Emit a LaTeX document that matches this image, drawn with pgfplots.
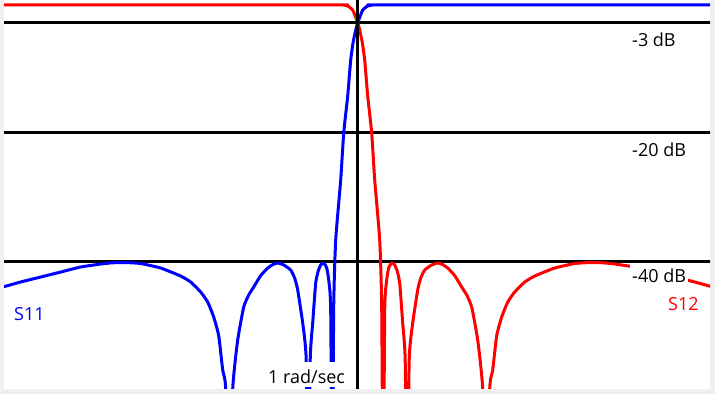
\documentclass[border=0pt]{standalone}
\usepackage{fontspec}
\setmainfont{Open Sans}
\usepackage{pgfplots}
\pgfplotsset{compat=1.18}
\definecolor{bg}{HTML}{F0F0F0}
\begin{document}
\begin{tikzpicture}[x=1pt,y=1pt]
\fill[bg] (0,0) rectangle (715,394);
\fill[white] (4,5) rectangle (710,394);
\begin{axis}[at={(4pt,5pt)}, anchor=south west, scale only axis,
  width=706pt, height=389pt,
  xmin=-353.7, xmax=352.3, ymin=-59.76, ymax=0.472,
  axis lines=none, ticks=none, clip=true]
\addplot[black, line width=3pt] coordinates {(-360,-3) (360,-3)};
\addplot[black, line width=3pt] coordinates {(-360,-20) (360,-20)};
\addplot[black, line width=3pt] coordinates {(-360,-40) (360,-40)};
% S11
\addplot[blue, line width=3pt, line join=round, smooth, tension=0.3] coordinates {
(-355,-43.97) (-337,-43.19) (-317,-42.42) (-297,-41.65) (-277,-40.87)
(-257,-40.41) (-245,-40.22) (-232,-40.18) (-217,-40.33) (-197,-41.03)
(-177,-42.27) (-167,-43.2) (-157,-44.74) (-150,-46.3) (-144,-48.61)
(-139,-51.5) (-135,-56.82) (-132,-59.76) (-129,-80) (-125,-59.76)
(-120,-52.18) (-114,-47.07) (-109,-45.2) (-104,-43.97) (-97,-42.2)
(-90,-41.03) (-85,-40.5) (-80,-40.25) (-74,-40.55) (-67,-41.34)
(-63,-42.6) (-60,-44.43) (-55,-49.54) (-51.5,-55.27) (-49.5,-80)
(-47.5,-55.27) (-45,-49.54) (-42,-43.35) (-39.5,-41.5) (-37,-40.56)
(-34,-40.25) (-31,-41.0) (-29,-42.88) (-27,-47.53) (-25.5,-80)
(-24,-47.07) (-22,-36.69) (-17,-27.4) (-14,-20.12) (-10,-14.39)
(-7,-8.82) (-4.5,-6.03) (-2,-4.17) (0,-3.0) (1,-2.62) (5,-1.08)
(10,-0.46) (15,-0.30) (25,-0.30) (355,-0.30)
};
% S12
\addplot[red, line width=3pt, line join=round, smooth, tension=0.3] coordinates {
(-355,-0.30) (-25,-0.30) (-15,-0.30) (-10,-0.46) (-5,-1.08) (-1,-2.62)
(0,-3.0) (2,-4.17) (4.5,-6.03) (7,-8.82) (10,-14.39) (14,-20.12)
(17,-27.4) (22,-36.69) (24,-47.07) (25.5,-80) (27,-47.53) (29,-42.88)
(31,-41.0) (34,-40.25) (37,-40.56) (39.5,-41.5) (42,-43.35) (45,-49.54)
(47.5,-55.27) (49.5,-80) (51.5,-55.27) (55,-49.54) (60,-44.43)
(63,-42.6) (67,-41.34) (74,-40.55) (80,-40.25) (85,-40.5) (90,-41.03)
(97,-42.2) (104,-43.97) (109,-45.2) (114,-47.07) (120,-52.18)
(125,-59.76) (129,-80) (132,-59.76) (135,-56.82) (139,-51.5)
(144,-48.61) (150,-46.3) (157,-44.74) (167,-43.2) (177,-42.27)
(197,-41.03) (217,-40.33) (232,-40.18) (245,-40.22) (257,-40.41)
(277,-40.87) (297,-41.65) (317,-42.42) (337,-43.19) (355,-43.97)
};
\addplot[black, line width=3pt] coordinates {(0,5) (0,-70)};
\end{axis}
\tikzset{lbl/.style={font=\fontsize{18}{22}\selectfont, anchor=base west, inner xsep=2pt}}
\node[lbl, inner ysep=0pt] at (630,347) {-3 dB};
\node[lbl, inner ysep=0pt] at (630,237) {-20 dB};
\node[lbl, fill=white, inner ysep=4pt, text height=15pt, text depth=5pt] at (630,111) {-40 dB};
\node[lbl, text=blue, inner ysep=0pt] at (12,74) {S11};
\node[lbl, text=red, inner ysep=0pt] at (666,84) {S12};
\node[lbl, fill=white, inner ysep=2pt, text height=19pt, text depth=2pt] at (266,11) {1 rad/sec};
\pgfresetboundingbox
\path (0,0) rectangle (715,394);
\end{tikzpicture}
\end{document}
